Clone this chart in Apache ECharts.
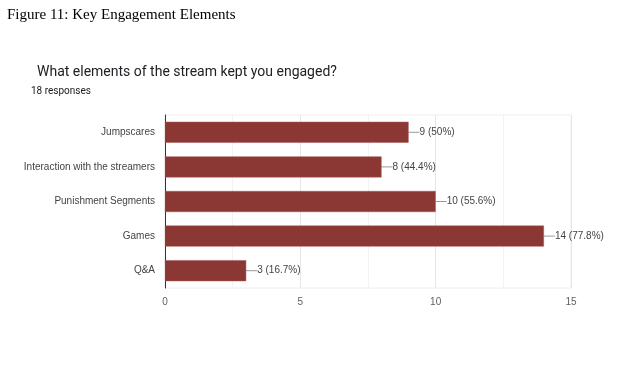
<!DOCTYPE html>
<html><head><meta charset="utf-8">
<script src="https://cdn.jsdelivr.net/npm/echarts@6/dist/echarts.min.js"></script>
<style>html,body{margin:0;padding:0;background:#fff}#c{width:638px;height:365px}</style>
</head><body><div id="c"></div>
<script>
var categories = ["Jumpscares", "Interaction with the streamers", "Punishment Segments", "Games", "Q&A"];
var counts = [9, 8, 10, 14, 3];
var percents = ["50%", "44.4%", "55.6%", "77.8%", "16.7%"];
var xTicks = [0, 5, 10, 15];

var chart = echarts.init(document.getElementById('c'), null, {renderer: 'canvas'});
chart.setOption({
  animation: false,
  title: [
    {text: 'Figure 11: Key Engagement Elements', left: 7, top: 8, padding: 0,
     textStyle: {fontFamily: 'Liberation Serif', fontSize: 15, fontWeight: 'normal', color: '#000'}},
    {text: 'What elements of the stream kept you engaged?', left: 37, top: 65, padding: 0,
     textStyle: {fontFamily: 'Roboto', fontSize: 14, fontWeight: 'normal', color: '#202124'}},
    {text: '18 responses', left: 31, top: 86, padding: 0,
     textStyle: {fontFamily: 'Roboto', fontSize: 10, fontWeight: 'normal', color: '#202124'}}
  ],
  grid: {left: 165, right: 67, top: 115, bottom: 77, show: true, borderColor: '#eeeeee', borderWidth: 1},
  xAxis: {
    type: 'value', min: xTicks[0], max: xTicks[xTicks.length - 1], interval: 5,
    axisLine: {show: false}, axisTick: {show: false},
    axisLabel: {color: '#5f5f5f', fontFamily: 'Liberation Sans', fontSize: 10, margin: 9},
    splitLine: {show: true, lineStyle: {color: '#e6e6e6'}},
    minorTick: {show: false, splitNumber: 2},
    minorSplitLine: {show: true, lineStyle: {color: '#f3f3f3'}}
  },
  yAxis: {
    type: 'category', data: categories, inverse: true,
    axisLine: {show: true, lineStyle: {color: '#333', width: 1}},
    axisTick: {show: false},
    axisLabel: {color: '#444', fontFamily: 'Liberation Sans', fontSize: 10, margin: 10}
  },
  series: [{
    type: 'bar', data: counts, barWidth: 21,
    itemStyle: {color: '#8b3835', borderColor: '#a45552', borderWidth: 0.5},
    label: {
      show: true, position: 'right', distance: 0,
      color: '#444', fontFamily: 'Liberation Sans', fontSize: 10,
      formatter: function (p) { return p.value + ' (' + percents[p.dataIndex] + ')'; }
    },
    labelLayout: {dx: 11},
    labelLine: {show: true, lineStyle: {color: '#999', width: 1}}
  }]
});
</script></body></html>
